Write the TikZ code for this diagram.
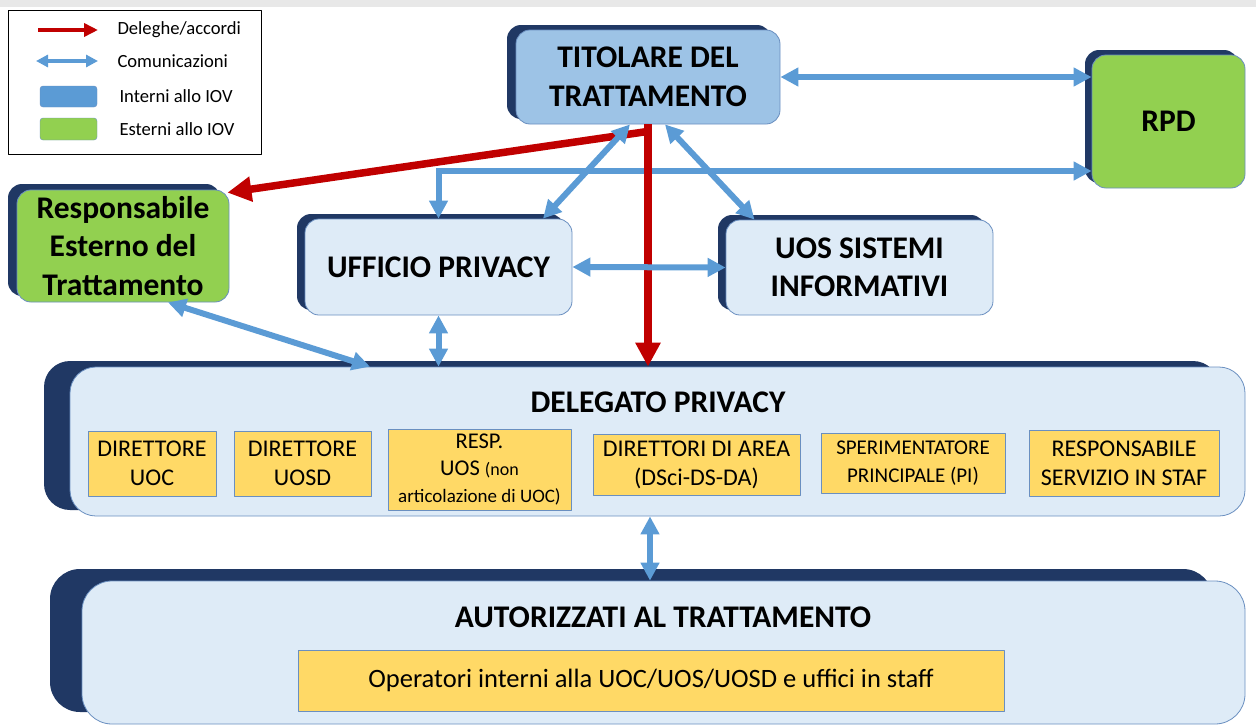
\documentclass[tikz,border=0pt]{standalone}
\usepackage{fontspec}
\setmainfont{Carlito}
\usetikzlibrary{arrows.meta}
\usetikzlibrary{shadows}
\usetikzlibrary{positioning}

\definecolor{navyshadow}{HTML}{203864}
\definecolor{titblue}{HTML}{9DC3E6}
\definecolor{paleblue}{HTML}{DEEBF7}
\definecolor{extgreen}{HTML}{92D050}
\definecolor{commblue}{HTML}{5B9BD5}
\definecolor{delegred}{HTML}{C00000}
\definecolor{roleyellow}{HTML}{FFD966}
\definecolor{edgeblue}{HTML}{6A8FC0}

\begin{document}
\begin{tikzpicture}[x=1pt,y=-1pt,line join=round,
        lifted/.style 2 args={drop shadow={shadow xshift=#1,shadow yshift=#2,fill=navyshadow,opacity=1}},
        orgbox/.style={draw=edgeblue,line width=0.8pt,rounded corners=14pt,align=center,inner sep=0pt,
            font=\bfseries\fontsize{31.5}{38.5}\selectfont},
        bigbox/.style={draw=edgeblue,line width=0.8pt,rounded corners=26pt,inner sep=0pt},
        bigtitle/.style={font=\bfseries\fontsize{31.5}{38}\selectfont},
        rolebox/.style={draw=edgeblue,line width=0.8pt,fill=roleyellow,align=center,inner sep=0pt,
            font=\fontsize{24}{29}\selectfont},
        comm/.style={draw=commblue,line width=6pt,{Triangle[length=18pt,width=18pt]}-{Triangle[length=18pt,width=18pt]}},
        deleg/.style={draw=delegred,line width=7.5pt,-{Triangle[length=24pt,width=24pt]}},
        legtext/.style={anchor=west,font=\fontsize{18.6}{22}\selectfont}]
    \useasboundingbox (0,0) rectangle (1256,726);
    \fill[black!9] (0,0) rectangle (1256,7);

    % legenda
    \draw[line width=0.8pt] (8,10) rectangle (261,154);
    \coordinate (legRedA) at (38,30);
    \coordinate (legRedB) at (98,30);
    \coordinate (legBlueA) at (36,61);
    \coordinate (legBlueB) at (98,61);
    \draw[draw=delegred,line width=4pt,-{Triangle[length=14pt,width=13pt]}] (legRedA) -- (legRedB);
    \draw[draw=commblue,line width=3.5pt,{Triangle[length=12pt,width=12pt]}-{Triangle[length=12pt,width=12pt]}] (legBlueA) -- (legBlueB);
    \draw[fill=commblue,draw=edgeblue,rounded corners=3pt] (40,86) rectangle (97,107);
    \draw[fill=extgreen,draw=edgeblue,rounded corners=3pt] (40,118) rectangle (97,140);
    \node[legtext] (legDeleg) at (114,30) {Deleghe/accordi};
    \node[legtext] (legComm) at (114,61) {Comunicazioni};
    \node[legtext] (legInt) at (116,96) {Interni allo IOV};
    \node[legtext] (legExt) at (116,129) {Esterni allo IOV};

    % soggetti
    \node[orgbox,fill=titblue,lifted={-9pt}{5pt},minimum width=264pt,minimum height=94pt] (tit) at (648,77) {TITOLARE DEL\\TRATTAMENTO};
    \node[orgbox,fill=extgreen,lifted={-7pt}{5pt},minimum width=153pt,minimum height=133pt] (rpd) at (1168.5,121.5) {RPD};
    \node[orgbox,fill=extgreen,lifted={-9pt}{6pt},minimum width=212pt,minimum height=112pt] (res) at (123,246) {Responsabile\\Esterno del\\Trattamento};
    \node[orgbox,fill=paleblue,lifted={-8pt}{5pt},minimum width=267pt,minimum height=96pt] (uff) at (438.5,267) {UFFICIO PRIVACY};
    \node[orgbox,fill=paleblue,lifted={-8pt}{5pt},minimum width=267pt,minimum height=95pt] (uos) at (859.5,267.5) {UOS SISTEMI\\INFORMATIVI};

    \node[bigbox,fill=paleblue,lifted={-26pt}{6pt},minimum width=1175pt,minimum height=149pt] (del) at (657.5,441.5) {};
    \node[bigtitle] (delTitle) at (658,402) {DELEGATO PRIVACY};
    \node[rolebox,minimum width=128pt,minimum height=65pt] (dirUoc) at (152,463.5) {DIRETTORE\\UOC};
    \node[rolebox,minimum width=137pt,minimum height=65pt] (dirUosd) at (302.5,463.5) {DIRETTORE\\UOSD};
    \node[rolebox,font=\fontsize{22.5}{27}\selectfont,minimum width=183pt,minimum height=81pt] (respUos) at (479.5,469.5)
        {RESP.\\UOS {\fontsize{18}{27}\selectfont(non}\\{\fontsize{19}{27}\selectfont articolazione di UOC)}};
    \node[rolebox,minimum width=207pt,minimum height=61pt] (dirArea) at (696.5,464.5) {DIRETTORI DI AREA\\(DSci-DS-DA)};
    \node[rolebox,font=\fontsize{21}{28}\selectfont,minimum width=184pt,minimum height=60pt] (speriment) at (913,463) {SPERIMENTATORE\\PRINCIPALE (PI)};
    \node[rolebox,minimum width=190pt,minimum height=66pt] (respStaff) at (1124,463) {RESPONSABILE\\SERVIZIO IN STAF};

    \node[bigbox,fill=paleblue,rounded corners=30pt,lifted={-32pt}{12pt},minimum width=1163pt,minimum height=143pt] (aut) at (663.5,652.5) {};
    \node[bigtitle] (autTitle) at (663,617) {AUTORIZZATI AL TRATTAMENTO};
    \node[rolebox,font=\fontsize{26.5}{29}\selectfont,minimum width=706pt,minimum height=61pt] (oper) at (651,680.5) {Operatori interni alla UOC/UOS/UOSD e uffici in staff};

    % collegamenti
    \coordinate (bus) at (uff.north |- 0,171);
    \draw[comm,line join=miter] (uff.north) -- (bus) -- (bus -| rpd.west);

    \coordinate (split) at ([yshift=-7pt]tit.south);
    \draw[deleg] (tit.south) -- (tit.south |- del.north);
    \draw[deleg] (split) -- ([xshift=-2pt,yshift=-3pt]res.north east);

    \draw[comm] (tit.east) -- (tit.east -| rpd.west);
    \draw[comm] ([xshift=-18pt]tit.south) -- ([xshift=104.5pt]uff.north);
    \draw[comm] ([xshift=17pt]tit.south) -- ([xshift=-105pt]uos.north);
    \draw[comm] (uff.east) -- (uos.west);
    \draw[comm] (uff.south) -- (uff.south |- del.north);
    \draw[comm] ([xshift=45pt]res.south) -- ([xshift=-287.5pt]del.north);
    \draw[comm] ([xshift=-7.5pt]del.south) -- ([xshift=-7.5pt]del.south |- aut.north);
\end{tikzpicture}
\end{document}
